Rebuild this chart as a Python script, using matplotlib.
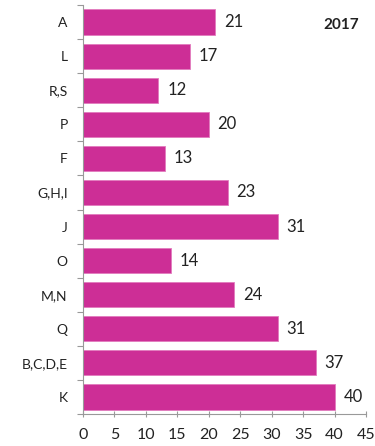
import matplotlib
matplotlib.use("Agg")
import matplotlib.pyplot as plt
import numpy as np

categories = ["A", "L", "R,S", "P", "F", "G,H,I", "J", "O", "M,N", "Q", "B,C,D,E", "K"]
values = [21, 17, 12, 20, 13, 23, 31, 14, 24, 31, 37, 40]
xticks = [0, 5, 10, 15, 20, 25, 30, 35, 40, 45]
title = "2017"

plt.rcParams['font.family'] = ['Lato', 'DejaVu Sans']

fig = plt.figure(figsize=(3.75, 4.46), dpi=100)
ax = fig.add_axes([83/375, 1-414/446, (366-83)/375, (414-5)/446])

y = np.arange(len(categories))
ax.barh(y, values, height=0.74, color="#CD2E96", edgecolor="#E27BBE", linewidth=0.6)
for yi, v in zip(y, values):
    ax.text(v + 1.4, yi, str(v), va="center", ha="left", fontsize=12, color="#222222")

ax.set_ylim(len(categories) - 0.5, -0.5)
ax.set_xlim(0, 45)
ax.set_yticks(y)
ax.set_yticklabels(categories, fontsize=10, color="#222222")
ax.set_yticks(np.arange(len(categories) + 1) - 0.5, minor=True)
ax.tick_params(axis="y", which="major", length=0, pad=11)
ax.tick_params(axis="y", which="minor", length=4, color="#999999", width=0.8)
ax.set_xticks(xticks)
ax.tick_params(axis="x", which="major", length=4, direction="inout", color="#999999", width=0.8,
               labelsize=11.5, labelcolor="#222222", pad=8)

for s in ["top", "right"]:
    ax.spines[s].set_visible(False)
for s in ["left", "bottom"]:
    ax.spines[s].set_color("#999999")
    ax.spines[s].set_linewidth(0.8)

ax.text(0.975, 0.95, title, transform=ax.transAxes, ha="right", va="center",
        fontsize=11, fontweight="bold", color="#222222")

fig.savefig("out.png", dpi=100)
